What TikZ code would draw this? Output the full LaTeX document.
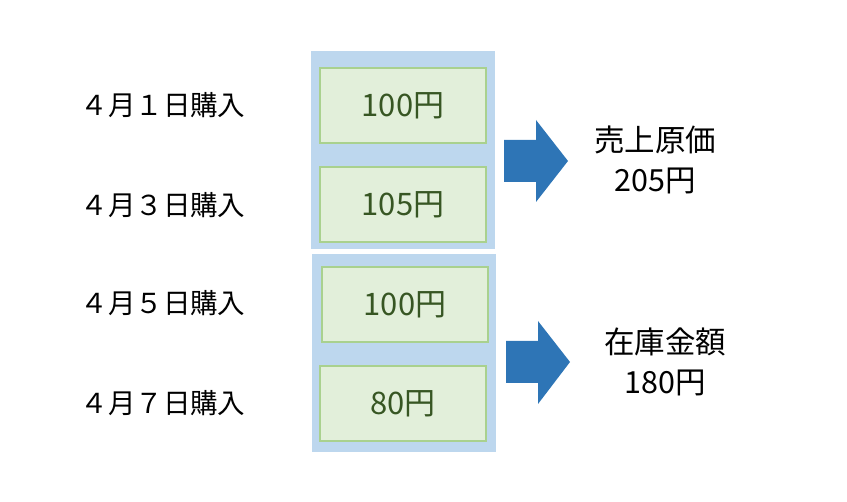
\documentclass[tikz,border=0pt]{standalone}
\usepackage{fontspec}
\setmainfont{Noto Sans CJK JP}
\usetikzlibrary{positioning}
\definecolor{Panel}{HTML}{BDD7EE}
\definecolor{Leaf}{HTML}{E2EFDA}
\definecolor{LeafEdge}{HTML}{A9D18E}
\definecolor{LeafText}{HTML}{375623}
\definecolor{Flow}{HTML}{2E75B6}

\begin{document}
\begin{tikzpicture}[x=1pt,y=-1pt,
  panel/.style={fill=Panel,minimum width=184pt,minimum height=198pt,inner sep=0pt},
  lot/.style={draw=LeafEdge,line width=2pt,fill=Leaf,text=LeafText,
    minimum width=166pt,minimum height=75pt,inner sep=0pt,
    font=\fontsize{31pt}{36pt}\selectfont},
  date/.style={font=\fontsize{27.5pt}{32pt}\selectfont,inner sep=0pt},
  result/.style={align=center,font=\fontsize{30.5pt}{40pt}\selectfont,inner sep=0pt},
  flow/.style={fill=Flow}]
\useasboundingbox (0,0) rectangle (847,502);
\node[panel](sold) at (403,150){};
\node[panel](stock) at (404,353){};
\node[lot](lotA) at (403,105.5){100円};
\node[lot](lotB) at (403,204.5){105円};
\node[lot](lotC) at (405,305){100円};
\node[lot](lotD) at (403,403.5){80円};
\node[date](dateA) at (163,105){４月１日購入};
\node[date](dateB) at (163,205){４月３日購入};
\node[date](dateC) at (163,303){４月５日購入};
\node[date](dateD) at (163,403){４月７日購入};
\node[result](cogs) at (655,160){売上原価\\205円};
\node[result](inv) at (665,362){在庫金額\\180円};
% block arrows
\fill[flow] (504,140)--(536,140)--(536,120)--(568,161)--(536,202)--(536,182)--(504,182)--cycle;
\fill[flow] (506,341)--(538,341)--(538,321)--(570,362)--(538,404)--(538,383)--(506,383)--cycle;
\end{tikzpicture}
\end{document}
